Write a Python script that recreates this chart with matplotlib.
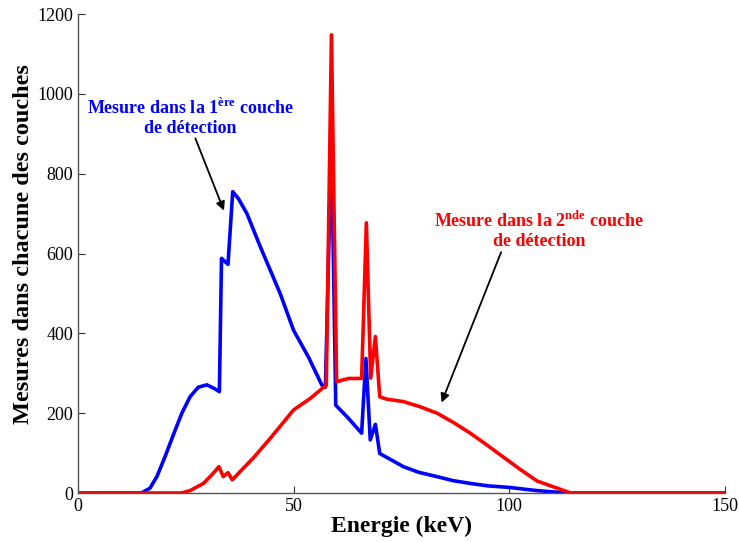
import matplotlib.pyplot as plt

plt.rcParams['font.family'] = ['Liberation Serif', 'DejaVu Serif']
plt.rcParams['mathtext.fontset'] = 'custom'
plt.rcParams['mathtext.rm'] = 'Liberation Serif:bold'
plt.rcParams['mathtext.bf'] = 'Liberation Serif:bold'

# Data (energy in keV, counts)
blue_e = [0, 14.7, 16.7, 18.3, 20.2, 22.1, 24.1, 26.0, 27.9, 29.9, 31.6, 32.8,
          33.3, 34.8, 35.9, 37.2, 39.2, 42.3, 46.9, 50.0, 53.5, 56.6, 57.4, 58.8,
          59.8, 62.5, 65.8, 66.8, 67.8, 69.0, 70.0, 72.5, 75.5, 79.0, 83.3,
          87.0, 91.0, 95.0, 100.0, 106.5, 111.0, 114.3, 150]
blue_m = [0, 0, 12, 41, 91, 145, 200, 241, 265, 271, 262, 254,
          588, 573, 755, 738, 700, 617, 500, 408, 340, 270, 265, 890,
          220, 190, 150, 337, 133, 172, 99, 84, 66, 52, 41,
          31, 24, 18, 14, 6, 2, 0, 0]

red_e = [0, 24.0, 26.0, 29.1, 31.0, 32.7, 33.7, 34.8, 35.8, 38.0, 40.7, 44.6,
         47.5, 50.0, 53.9, 57.0, 57.6, 58.8, 60.0, 62.8, 65.8, 66.9, 67.9,
         69.0, 70.0, 71.7, 75.5, 79.4, 83.3, 87.2, 91.0, 94.9, 98.8, 102.6,
         106.5, 114.3, 150]
red_m = [0, 0, 6, 24, 45, 66, 41, 51, 33, 58, 88, 137,
         175, 208, 237, 265, 270, 1148, 279, 287, 287, 677, 288,
         392, 241, 235, 229, 216, 200, 176, 150, 120, 89, 59,
         30, 0, 0]

fig = plt.figure(figsize=(7.39, 5.42), dpi=100)
ax = fig.add_axes([0.1055, 0.0904, 0.875, 0.8836])

ax.plot(blue_e, blue_m, color='#0000ff', lw=2.6, solid_joinstyle='round')
ax.plot(red_e, red_m, color='#ff0000', lw=2.6, solid_joinstyle='round')

ax.set_xlim(0, 150)
ax.set_ylim(0, 1200)
ax.set_xticks([0, 50, 100, 150])
ax.set_yticks(range(0, 1201, 200))
ax.tick_params(direction='in', labelsize=13, length=5, width=0.8, colors='#333333',
               labelcolor='black')
ax.spines['top'].set_visible(False)
ax.spines['right'].set_visible(False)
for s in ('left', 'bottom'):
    ax.spines[s].set_color('#555555')
    ax.spines[s].set_linewidth(1.0)

ax.set_xlabel('Energie (keV)', fontsize=17, fontweight='bold', labelpad=1)
ax.set_ylabel('Mesures dans chacune des couches', fontsize=17.5, fontweight='bold')
ax.yaxis.set_label_coords(-0.068, 0.52)

ax.text(26.1, 941, 'Mesure dans la 1$^{\\mathrm{ère}}$ couche\nde détection',
        color='#0000ff', fontsize=13, fontweight='bold', ha='center', va='center',
        linespacing=1.1)
ax.text(106.9, 658, 'Mesure dans la 2$^{\\mathrm{nde}}$ couche\nde détection',
        color='#ff0000', fontsize=13, fontweight='bold', ha='center', va='center',
        linespacing=1.1)

ax.annotate('', xy=(34.1, 701), xytext=(27.0, 895),
            arrowprops=dict(arrowstyle='-|>', color='black', lw=1.3, mutation_scale=13))
ax.annotate('', xy=(84.1, 220), xytext=(98.4, 610),
            arrowprops=dict(arrowstyle='-|>', color='black', lw=1.3, mutation_scale=13))

fig.savefig('out.png', dpi=100)
